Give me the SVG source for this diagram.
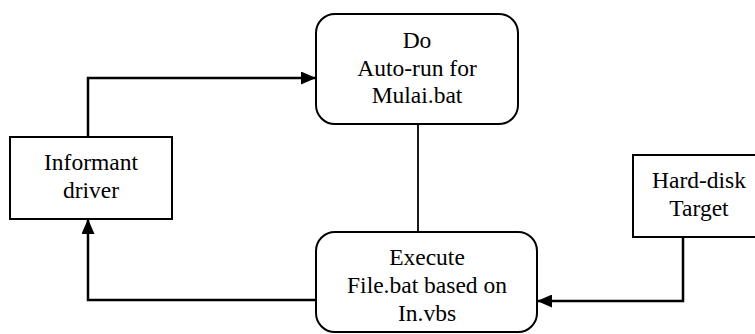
<svg xmlns="http://www.w3.org/2000/svg" width="755" height="334" viewBox="0 0 755 334">
<style>
.box{fill:#fff;stroke:#000;stroke-width:2}
.t{font-family:"Liberation Serif","Times New Roman",serif;font-size:23.5px;fill:#000;text-anchor:middle}
.c{fill:none;stroke:#000;stroke-width:2.5}
.c2{fill:none;stroke:#000;stroke-width:1.8}
</style>
<defs>
<marker id="ah" markerWidth="15" markerHeight="13" refX="15" refY="6.5" orient="auto" markerUnits="userSpaceOnUse">
<path d="M0,0 L15,6.5 L0,13 Z" fill="#000"/>
</marker>
</defs>
<rect width="755" height="334" fill="#fff"/>
<g id="connectors">
<path class="c" d="M88,137 V78 H316" marker-end="url(#ah)"/>
<path class="c2" d="M418,124 V232"/>
<path class="c" d="M316,300 H88 V219" marker-end="url(#ah)"/>
<path class="c" d="M683,237 V301 H537" marker-end="url(#ah)"/>
</g>
<g id="autorun">
<rect class="box" x="316" y="14" width="202" height="110" rx="19"/>
<text class="t" x="417" y="48">Do</text>
<text class="t" x="417" y="76">Auto-run for</text>
<text class="t" x="417" y="103">Mulai.bat</text>
</g>
<g id="informant">
<rect class="box" x="10" y="137" width="162" height="82"/>
<text class="t" x="91" y="170">Informant</text>
<text class="t" x="91" y="198">driver</text>
</g>
<g id="execute">
<rect class="box" x="316" y="232" width="221" height="100" rx="19"/>
<text class="t" x="427" y="265">Execute</text>
<text class="t" x="427" y="293">File.bat based on</text>
<text class="t" x="427" y="321">In.vbs</text>
</g>
<g id="harddisk">
<rect class="box" x="633" y="155" width="132" height="82"/>
<text class="t" x="699" y="188">Hard-disk</text>
<text class="t" x="699" y="216">Target</text>
</g>
</svg>
